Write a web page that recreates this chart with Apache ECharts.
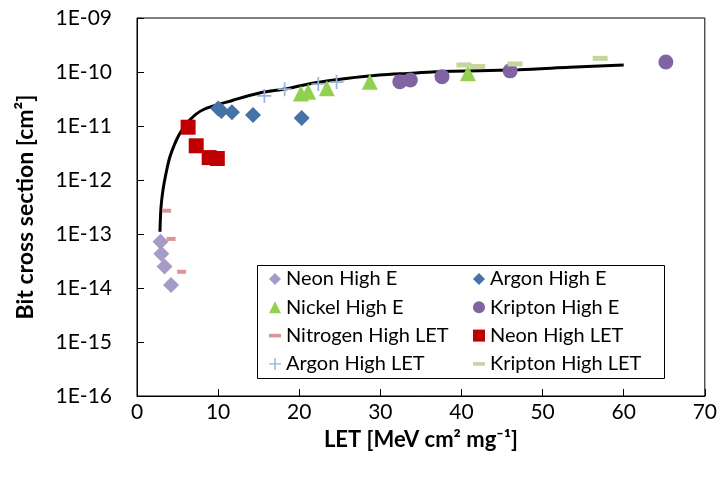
<!DOCTYPE html>
<html>
<head>
<meta charset="utf-8">
<script src="https://cdn.jsdelivr.net/npm/echarts@6/dist/echarts.min.js"></script>
<style>
  html, body { margin: 0; padding: 0; background: #fff; }
  #chart { width: 720px; height: 481px; }
</style>
</head>
<body>
<div id="chart"></div>
<script>
// [LET, cross section]
const neonHighE = [[2.9, 7.2e-14], [3.0, 4.3e-14], [3.4, 2.5e-14], [4.2, 1.14e-14]];
const argonHighE = [[10.0, 2.1e-11], [10.4, 1.9e-11], [11.7, 1.8e-11], [14.3, 1.6e-11], [20.3, 1.4e-11]];
const nickelHighE = [[20.2, 4.0e-11], [21.1, 4.3e-11], [23.4, 5.0e-11], [28.7, 6.6e-11], [40.8, 9.5e-11]];
const kriptonHighE = [[32.4, 6.6e-11], [33.7, 7.1e-11], [37.6, 8.2e-11], [46.0, 1.05e-10], [65.2, 1.53e-10]];
const nitrogenHighLET = [[3.65, 2.7e-13], [4.2, 8.1e-14], [5.5, 2.0e-14]];
const neonHighLET = [[6.3, 9.5e-12], [7.3, 4.3e-12], [8.9, 2.6e-12], [9.9, 2.5e-12]];
const argonHighLET = [[15.7, 3.6e-11], [18.2, 4.8e-11], [22.35, 6.0e-11], [24.6, 6.5e-11]];
const kriptonHighLET = [[40.3, 1.35e-10], [42.0, 1.26e-10], [46.6, 1.41e-10], [57.1, 1.79e-10]];
// fitted curve
const fitCurve = [
  [2.83, 1.1e-13], [2.95, 3e-13], [3.2, 6.5e-13], [3.65, 1.5e-12], [4.06, 2.7e-12],
  [4.67, 4.7e-12], [5.29, 7.3e-12], [6.52, 1.3e-11], [8.15, 2.0e-11], [11.85, 3.0e-11],
  [15.1, 4.1e-11], [18.8, 5.0e-11], [21.6, 6.2e-11], [25.8, 7.6e-11], [29.9, 8.8e-11],
  [33.9, 9.5e-11], [37.3, 1.02e-10], [47.1, 1.1e-10], [53.3, 1.22e-10], [60.0, 1.35e-10]
];
const xTicks = [0, 10, 20, 30, 40, 50, 60, 70];

const FONT = 'Lato';
const plusPath = 'path://M4.4,0h1.2v10h-1.2z M0,4.4h10v1.2h-10z';

const chart = echarts.init(document.getElementById('chart'));

function pts(name, data, symbol, size, color) {
  return {
    name: name,
    type: 'scatter',
    data: data,
    symbol: symbol,
    symbolSize: size,
    itemStyle: { color: color, opacity: 1 },
    z: 3
  };
}

const legendText = { fontFamily: FONT, fontSize: 20, color: '#000', lineHeight: 20 };

const option = {
  animation: false,
  backgroundColor: '#fff',
  grid: {
    left: 137, right: 14, top: 18, bottom: 85,
    show: true, borderColor: '#000', borderWidth: 1
  },
  xAxis: {
    type: 'value',
    min: 0, max: 70, interval: 10,
    name: 'LET [MeV cm² mg⁻¹]',
    nameLocation: 'middle',
    nameGap: 33,
    nameTextStyle: { fontFamily: FONT, fontSize: 22, fontWeight: 'bold', color: '#000' },
    axisLine: { lineStyle: { color: '#000', width: 1 } },
    axisTick: { inside: true, length: 7, lineStyle: { color: '#000' } },
    axisLabel: {
      fontFamily: FONT, fontSize: 21, color: '#000', margin: 6,
      formatter: v => xTicks.includes(v) ? String(v) : ''
    },
    splitLine: { show: false }
  },
  yAxis: {
    type: 'log',
    logBase: 10,
    min: 1e-16, max: 1e-9,
    name: 'Bit cross section [cm²]',
    nameLocation: 'middle',
    nameGap: 100,
    nameTextStyle: { fontFamily: FONT, fontSize: 23, fontWeight: 'bold', color: '#000' },
    axisLine: { lineStyle: { color: '#000', width: 1 } },
    axisTick: { inside: true, length: 7, lineStyle: { color: '#000' } },
    minorTick: { show: false },
    axisLabel: {
      fontFamily: FONT, fontSize: 21, color: '#000', margin: 25,
      formatter: v => '1E-' + String(-Math.round(Math.log10(v))).padStart(2, '0')
    },
    splitLine: { show: false }
  },
  legend: [
    {
      orient: 'vertical', left: 264, top: 264, itemGap: 8.3,
      itemWidth: 12, itemHeight: 12,
      textStyle: legendText,
      data: [
        { name: 'Neon High E', icon: 'diamond' },
        { name: 'Nickel High E', icon: 'triangle' },
        { name: 'Nitrogen High LET', icon: 'path://M0,4h10v3h-10z' },
        { name: 'Argon High LET', icon: plusPath }
      ]
    },
    {
      orient: 'vertical', left: 468, top: 264, itemGap: 8.3,
      itemWidth: 12, itemHeight: 12,
      textStyle: legendText,
      data: [
        { name: 'Argon High E', icon: 'diamond' },
        { name: 'Kripton High E', icon: 'circle' },
        { name: 'Neon High LET', icon: 'rect' },
        { name: 'Kripton High LET', icon: 'path://M0,3.5h10v3h-10z' }
      ]
    }
  ],
  graphic: [
    {
      type: 'rect',
      shape: { x: 257.5, y: 265.5, width: 407, height: 113 },
      style: { fill: 'none', stroke: '#000', lineWidth: 1 },
      z: 10
    }
  ],
  series: [
    {
      name: 'fit',
      type: 'line',
      data: fitCurve,
      smooth: 0.3,
      showSymbol: false,
      lineStyle: { color: '#000', width: 3 },
      z: 2
    },
    pts('Neon High E', neonHighE, 'diamond', 16, '#A59BC6'),
    pts('Argon High E', argonHighE, 'diamond', 16, '#4572A7'),
    pts('Nickel High E', nickelHighE, 'triangle', 16, '#92D050'),
    pts('Kripton High E', kriptonHighE, 'circle', 15, '#8064A2'),
    pts('Nitrogen High LET', nitrogenHighLET, 'rect', [9, 4], '#D99694'),
    pts('Neon High LET', neonHighLET, 'rect', 15, '#C00000'),
    pts('Argon High LET', argonHighLET, plusPath, 14, '#95B3D7'),
    pts('Kripton High LET', kriptonHighLET, 'rect', [15, 5], '#C3D69B')
  ]
};

chart.setOption(option);
</script>
</body>
</html>
